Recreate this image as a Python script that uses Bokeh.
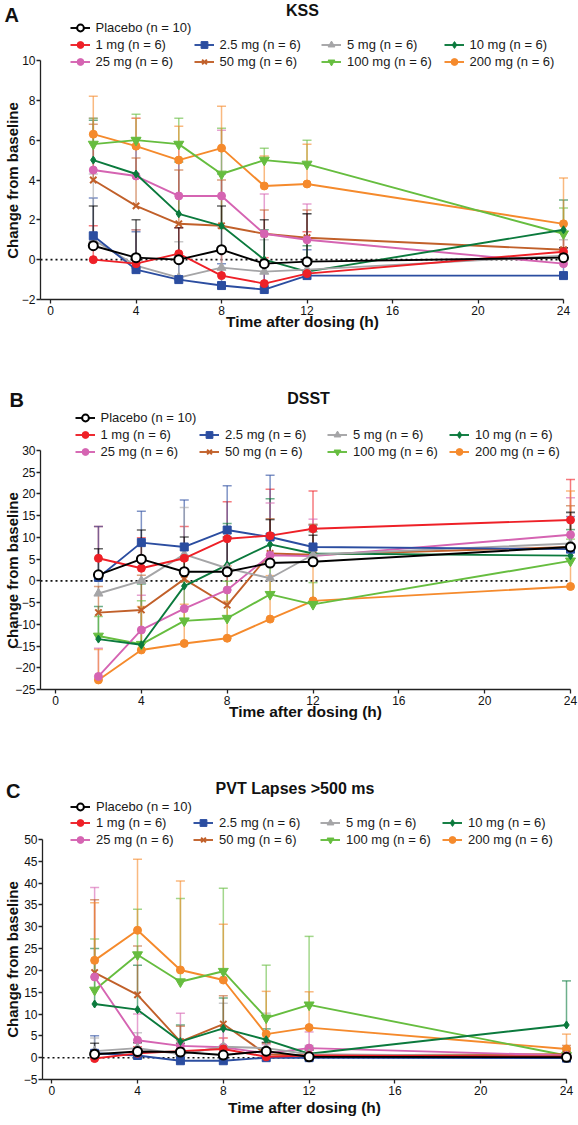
import math
from bokeh.plotting import figure
from bokeh.models import (ColumnDataSource, Range1d, Legend, LegendItem, Label,
                          FixedTicker)
from bokeh.layouts import column
from bokeh.embed import file_html
from bokeh.resources import INLINE
from bokeh.core.properties import value

# ---------------- data ----------------
times = [2, 4, 6, 8, 10, 12, 24]
groups = ["Placebo (n = 10)", "1 mg (n = 6)", "2.5 mg (n = 6)", "5 mg (n = 6)",
          "10 mg (n = 6)", "25 mg (n = 6)", "50 mg (n = 6)", "100 mg (n = 6)",
          "200 mg (n = 6)"]
x_ticks = [0, 4, 8, 12, 16, 20, 24]

# KSS: mean change from baseline and SD (upper bar)
kss_placebo = [0.7, 0.1, 0.0, 0.5, -0.2, -0.1, 0.1]
kss_1mg = [0.0, -0.2, 0.3, -0.8, -1.2, -0.7, 0.4]
kss_2_5mg = [1.2, -0.5, -1.0, -1.3, -1.5, -0.8, -0.8]
kss_5mg = [1.0, -0.3, -0.9, -0.4, -0.6, -0.5, 0.2]
kss_10mg = [5.0, 4.3, 2.3, 1.7, 0.0, -0.6, 1.5]
kss_25mg = [4.5, 4.2, 3.2, 3.2, 1.3, 1.0, -0.2]
kss_50mg = [4.0, 2.7, 1.8, 1.7, 1.3, 1.1, 0.5]
kss_100mg = [5.8, 6.0, 5.8, 4.3, 5.0, 4.8, 1.3]
kss_200mg = [6.3, 5.7, 5.0, 5.6, 3.7, 3.8, 1.8]
kss_sd_placebo = [2.0, 1.9, 1.6, 2.2, 2.2, 2.4, 0.5]
kss_sd_1mg = [1.7, 1.7, 1.3, 1.4, 1.3, 2.1, 1.0]
kss_sd_2_5mg = [1.9, 1.9, 1.2, 1.1, 1.2, 1.3, 1.4]
kss_sd_5mg = [3.3, 1.8, 1.8, 2.0, 1.6, 2.8, 0.8]
kss_sd_10mg = [2.0, 1.8, 2.6, 2.6, 1.5, 1.3, 1.5]
kss_sd_25mg = [2.6, 2.9, 2.7, 3.3, 2.0, 1.8, 0.8]
kss_sd_50mg = [2.8, 2.4, 2.7, 2.3, 1.2, 1.4, 0.9]
kss_sd_100mg = [1.3, 1.3, 1.3, 2.3, 0.6, 1.2, 1.3]
kss_sd_200mg = [1.9, 1.4, 1.7, 2.1, 1.5, 2.0, 2.3]

# DSST
dsst_placebo = [1.4, 5.0, 2.1, 2.1, 4.1, 4.4, 7.8]
dsst_1mg = [5.2, 2.9, 5.2, 9.7, 10.4, 12.0, 14.0]
dsst_2_5mg = [0.8, 8.8, 7.8, 11.7, 10.1, 7.8, 7.3]
dsst_5mg = [-2.9, 0.0, 6.1, 2.9, 0.6, 6.0, 8.6]
dsst_10mg = [-13.4, -14.7, -1.2, 3.7, 8.4, 6.3, 5.8]
dsst_25mg = [-22.0, -11.3, -6.4, -2.1, 5.9, 5.7, 10.6]
dsst_50mg = [-7.3, -6.7, 0.4, -5.6, 6.3, 6.0, 7.8]
dsst_100mg = [-12.7, -14.6, -9.2, -8.6, -3.1, -5.4, 4.6]
dsst_200mg = [-22.8, -15.9, -14.4, -13.2, -8.8, -4.6, -1.3]
dsst_sd_placebo = [6.0, 6.7, 8.0, 8.0, 10.0, 6.1, 8.0]
dsst_sd_1mg = [7.3, 7.0, 7.3, 8.5, 10.7, 8.7, 9.3]
dsst_sd_2_5mg = [11.7, 7.2, 10.8, 10.2, 14.2, 5.0, 7.5]
dsst_sd_5mg = [8.0, 8.5, 10.8, 8.0, 9.0, 7.0, 7.0]
dsst_sd_10mg = [7.5, 14.0, 6.0, 9.5, 10.5, 5.0, 6.0]
dsst_sd_25mg = [6.5, 8.0, 8.0, 12.0, 12.0, 8.5, 8.5]
dsst_sd_50mg = [6.0, 8.0, 5.0, 9.0, 8.0, 7.0, 9.5]
dsst_sd_100mg = [4.5, 10.0, 9.0, 8.5, 8.0, 5.0, 5.0]
dsst_sd_200mg = [7.0, 10.0, 9.0, 8.5, 10.0, 11.0, 22.0]

# PVT lapses > 500 ms
pvt_placebo = [0.8, 1.4, 1.3, 0.6, 1.5, 0.2, 0.1]
pvt_1mg = [-0.2, 1.0, 1.5, 2.0, 0.2, 0.5, 0.3]
pvt_2_5mg = [1.0, 0.5, -0.7, -0.7, 0.0, 0.0, -0.1]
pvt_5mg = [1.5, 2.2, 0.8, 2.5, 2.2, 0.8, 0.3]
pvt_10mg = [12.3, 11.0, 3.7, 6.7, 4.1, 0.9, 7.5]
pvt_25mg = [18.5, 4.0, 2.7, 2.4, 1.0, 2.2, 0.5]
pvt_50mg = [19.5, 14.4, 3.7, 7.7, 0.8, 0.5, 0.8]
pvt_100mg = [15.5, 23.6, 17.4, 19.8, 9.1, 12.1, 0.5]
pvt_200mg = [22.3, 29.2, 20.1, 17.8, 5.4, 6.9, 2.0]
pvt_sd_placebo = [2.5, 2.0, 2.0, 2.0, 2.0, 1.5, 0.5]
pvt_sd_1mg = [1.0, 1.5, 2.5, 2.5, 1.0, 1.5, 1.0]
pvt_sd_2_5mg = [4.0, 1.5, 1.0, 1.0, 1.0, 1.0, 0.5]
pvt_sd_5mg = [3.0, 3.5, 3.0, 10.0, 8.0, 2.0, 2.0]
pvt_sd_10mg = [12.7, 10.2, 3.8, 7.0, 2.5, 1.5, 10.1]
pvt_sd_25mg = [20.5, 6.0, 7.5, 4.0, 2.0, 3.7, 1.5]
pvt_sd_50mg = [16.7, 11.2, 3.5, 6.5, 2.5, 1.5, 2.0]
pvt_sd_100mg = [11.7, 10.4, 19.1, 19.0, 12.1, 15.7, 1.0]
pvt_sd_200mg = [13.2, 16.3, 20.4, 12.8, 9.8, 8.2, 3.4]

kss_means = [kss_placebo, kss_1mg, kss_2_5mg, kss_5mg, kss_10mg, kss_25mg, kss_50mg, kss_100mg, kss_200mg]
kss_sds = [kss_sd_placebo, kss_sd_1mg, kss_sd_2_5mg, kss_sd_5mg, kss_sd_10mg, kss_sd_25mg, kss_sd_50mg, kss_sd_100mg, kss_sd_200mg]
dsst_means = [dsst_placebo, dsst_1mg, dsst_2_5mg, dsst_5mg, dsst_10mg, dsst_25mg, dsst_50mg, dsst_100mg, dsst_200mg]
dsst_sds = [dsst_sd_placebo, dsst_sd_1mg, dsst_sd_2_5mg, dsst_sd_5mg, dsst_sd_10mg, dsst_sd_25mg, dsst_sd_50mg, dsst_sd_100mg, dsst_sd_200mg]
pvt_means = [pvt_placebo, pvt_1mg, pvt_2_5mg, pvt_5mg, pvt_10mg, pvt_25mg, pvt_50mg, pvt_100mg, pvt_200mg]
pvt_sds = [pvt_sd_placebo, pvt_sd_1mg, pvt_sd_2_5mg, pvt_sd_5mg, pvt_sd_10mg, pvt_sd_25mg, pvt_sd_50mg, pvt_sd_100mg, pvt_sd_200mg]

# ---------------- styles ----------------
colors = ["#000000", "#EE2027", "#2B4DA0", "#A5A5A7", "#0B7A3D",
          "#D564B2", "#C1602A", "#66BD3F", "#F58A2C"]
markers = ["circle", "circle", "square", "triangle", "diamond",
           "circle", "x", "inverted_triangle", "circle"]
msizes = [9, 8, 8, 9, 8, 8, 9, 10, 8]
FONT = "Liberation Sans"
FIG_W = 578


def make_panel(letter, title, means, sds, yr, ystep, geo, leg, labs):
    # geo: axis box in picture pixels + the x start value + figure vertical extent
    L, R, x0, T, B, ftop, fbot = geo
    ymin, ymax = yr
    ppx = (R - L) / (24 - x0)
    ppy = (B - T) / (ymax - ymin)
    xr = Range1d(x0 - L / ppx, 24 + (FIG_W - R) / ppx)
    yrng = Range1d(ymin - (fbot - B) / ppy, ymax + (T - ftop) / ppy)
    p = figure(frame_width=FIG_W, frame_height=fbot - ftop, x_range=xr, y_range=yrng,
               output_backend="svg", toolbar_location=None, min_border=0)
    p.outline_line_color = None
    p.xgrid.visible = False
    p.ygrid.visible = False
    p.xaxis.ticker = FixedTicker(ticks=x_ticks)
    p.yaxis.ticker = FixedTicker(ticks=list(range(ymin, ymax + 1, ystep)))
    p.xaxis.fixed_location = ymin
    p.xaxis.bounds = (x0, 24)
    p.yaxis.fixed_location = x0
    p.yaxis.bounds = (ymin, ymax)
    for ax in (p.xaxis[0], p.yaxis[0]):
        ax.axis_line_color = "#222222"
        ax.axis_line_width = 1.3
        ax.major_tick_line_color = "#222222"
        ax.major_tick_line_width = 1.3
        ax.major_tick_in = 0
        ax.major_tick_out = 4
        ax.minor_tick_line_color = None
        ax.major_label_text_font = FONT
        ax.major_label_text_font_size = "12px"
        ax.major_label_text_color = "#111111"
    p.xaxis.major_label_standoff = 2
    p.yaxis.major_label_standoff = 1

    def sx(ix):
        return ix

    def sy(iy):
        return fbot - iy

    # dotted zero reference line across the axis span
    p.segment(x0=[x0], y0=[0], x1=[24], y1=[0], line_color="#111111",
              line_width=1.6, line_dash="2 3")

    n = len(groups)
    sources = []
    for i in range(n):
        top = [m + s for m, s in zip(means[i], sds[i])]
        sources.append(ColumnDataSource(dict(t=times, m=means[i], top=top)))
    for i in list(range(1, n)) + [0]:
        src = sources[i]
        p.segment(x0="t", y0="m", x1="t", y1="top", source=src,
                  line_color=colors[i], line_alpha=0.6, line_width=1.5)
        p.scatter(x="t", y="top", source=src, marker="dash", size=9,
                  line_color=colors[i], line_alpha=0.6, line_width=1.5)
    rend = {}
    for i in list(range(n - 1, 0, -1)) + [0]:
        src = sources[i]
        lr = p.line(x="t", y="m", source=src, line_color=colors[i], line_width=1.9)
        if i == 0:
            sr = p.scatter(x="t", y="m", source=src, marker="circle", size=msizes[i],
                           fill_color="white", line_color="black", line_width=2)
        elif markers[i] == "x":
            sr = p.scatter(x="t", y="m", source=src, marker="x", size=msizes[i],
                           line_color=colors[i], line_width=2)
        else:
            sr = p.scatter(x="t", y="m", source=src, marker=markers[i], size=msizes[i],
                           fill_color=colors[i], line_color=colors[i], line_width=1)
        rend[i] = (lr, sr)

    col_x, row_y = leg
    slots = [(0, 0)] + [(1, c) for c in range(4)] + [(2, c) for c in range(4)]
    for i in range(n):
        r, c = slots[i]
        tx = col_x[c]
        ry = row_y[r]
        lg = Legend(items=[LegendItem(label=value(groups[i]), renderers=list(rend[i]))],
                    location=(sx(tx - 26), sy(ry + 8)),
                    glyph_width=20, glyph_height=17, label_height=16, label_width=10,
                    label_standoff=6, padding=0, margin=0, spacing=0,
                    border_line_alpha=0, background_fill_alpha=0,
                    label_text_font=FONT, label_text_font_size="13px",
                    label_text_color="#1a1a1a")
        p.add_layout(lg)

    (lx, ly), (tx_, ty_), (yx, yy), (xx, xy) = labs
    common = dict(x_units="screen", y_units="screen", text_font=FONT,
                  text_font_style="bold", text_baseline="middle", text_color="#111111")
    p.add_layout(Label(x=sx(lx), y=sy(ly), text=letter, text_font_size="20px",
                       text_align="left", **common))
    p.add_layout(Label(x=sx(tx_), y=sy(ty_), text=title, text_font_size="16px",
                       text_align="center", **common))
    p.add_layout(Label(x=sx(yx), y=sy(yy), text="Change from baseline",
                       angle=math.pi / 2, text_font_size="15px",
                       text_align="center", **common))
    p.add_layout(Label(x=sx(xx), y=sy(xy), text="Time after dosing (h)",
                       text_font_size="15.5px", text_align="center", **common))
    return p


# geometry in picture pixels: axis left, axis right, x start, axis top, axis bottom,
# figure top, figure bottom
pA = make_panel("A", "KSS", kss_means, kss_sds, (-2, 10), 2,
                (40, 563, -0.47, 60, 299, 0, 352),
                ([95.5, 219.5, 347, 469.5], [28, 45, 62]),
                ((4, 14), (302, 10), (12, 180), (302, 321)))
pB = make_panel("B", "DSST", dsst_means, dsst_sds, (-25, 30), 5,
                (40, 570, -0.7, 450, 689, 352, 742),
                ([100.5, 225, 353, 475], [418, 435, 452]),
                ((9, 399), (308, 398), (12, 570), (305, 711)))
pC = make_panel("C", "PVT Lapses >500 ms", pvt_means, pvt_sds, (-5, 50), 5,
                (42, 566, -0.43, 839, 1079, 742, 1122),
                ([96, 219, 346, 468], [807, 823, 840]),
                ((5.5, 790), (294.5, 788), (12, 959), (304, 1107)))

layout = column(pA, pB, pC, spacing=0)
open("out.html", "w").write(file_html(layout, INLINE))
